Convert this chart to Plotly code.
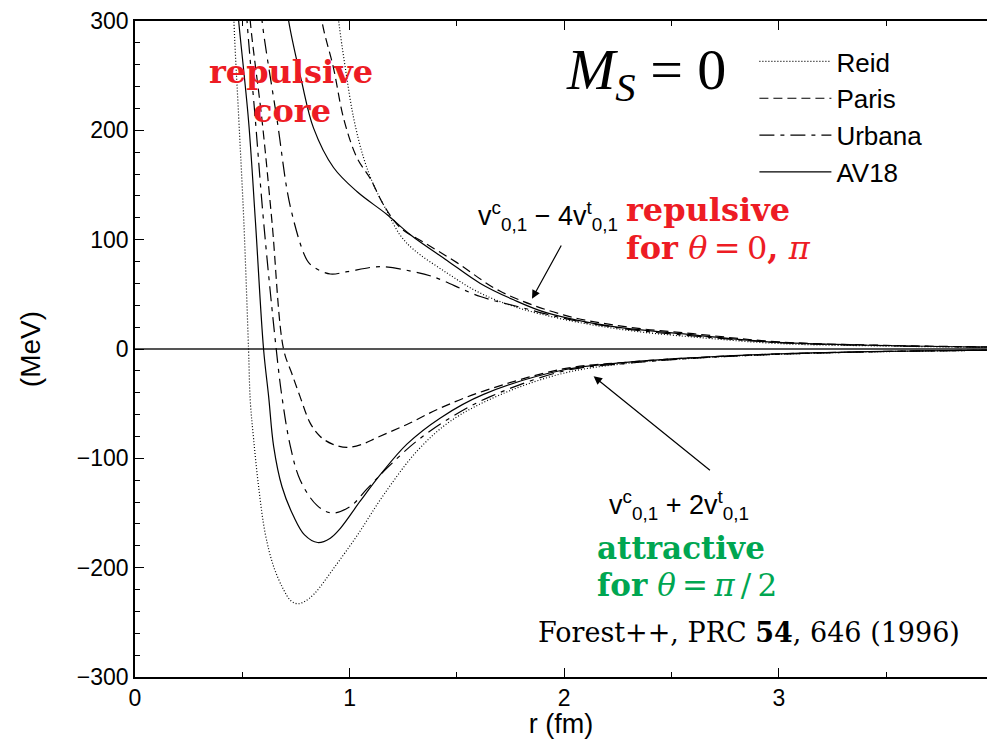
import plotly.graph_objects as go

# ---------------- data ----------------
# upper channel: v^c_{0,1} - 4 v^t_{0,1}
reid_up_r = [0.93, 0.949, 0.98, 1.019, 1.065, 1.112, 1.174, 1.236, 1.298, 1.45, 1.6, 1.764, 2.0, 2.3, 2.6, 3.0, 3.5, 3.97]
reid_up_v = [335, 300, 257, 211, 175, 150, 126, 104, 91, 70, 52, 39, 27, 17, 11, 5, 2.7, 1.5]

paris_up_r = [0.855, 0.871, 0.925, 0.972, 1.034, 1.096, 1.158, 1.236, 1.35, 1.5, 1.7, 2.0, 2.3, 2.6, 3.0, 3.5, 3.97]
paris_up_v = [335, 300, 257, 211, 175, 156, 132, 111, 97, 79, 53, 31, 20, 14, 6.5, 3.3, 1.9]

urbana_up_r = [0.575, 0.592, 0.662, 0.724, 0.801, 0.832, 0.91, 0.988, 1.143, 1.298, 1.391, 1.609, 1.8, 2.0, 2.3, 2.6, 3.0, 3.5, 3.97]
urbana_up_v = [340, 300, 209.5, 130, 81.4, 75, 68.6, 70.7, 75.3, 70.7, 66, 48, 38, 28, 18, 12, 5.8, 3, 1.7]

av18_up_r = [0.70, 0.716, 0.776, 0.832, 0.925, 1.034, 1.174, 1.283, 1.454, 1.609, 1.764, 1.92, 2.23, 2.541, 3.0, 3.5, 3.97]
av18_up_v = [325, 300, 245, 202, 166, 144, 123, 104.5, 81, 60, 45, 33, 20.4, 14, 6, 3.2, 1.8]

# lower channel: v^c_{0,1} + 2 v^t_{0,1}
reid_lo_r = [0.445, 0.461, 0.484, 0.507, 0.529, 0.537, 0.553, 0.576, 0.607, 0.646, 0.692, 0.725, 0.757, 0.79, 0.835, 0.928, 1.037, 1.16, 1.316, 1.47, 1.70, 2.0, 2.3, 2.6, 3.0, 3.5, 3.97]
reid_lo_v = [420, 300, 209, 117, 0, -47, -83, -126, -169, -199, -220, -230, -233, -231, -224, -200, -170, -133, -93, -66, -42, -22, -13, -8.5, -4.8, -2.4, -1.2]

paris_lo_r = [0.525, 0.537, 0.592, 0.638, 0.692, 0.73, 0.77, 0.817, 0.863, 0.92, 0.988, 1.06, 1.128, 1.267, 1.423, 1.624, 2.0, 2.3, 2.6, 3.0, 3.5, 3.97]
paris_lo_v = [340, 300, 209, 117, 0, -22, -44, -68, -80, -87, -90, -87, -81, -69, -54, -38.5, -18, -12, -8, -4.5, -2.2, -1.1]

urbana_lo_r = [0.51, 0.522, 0.561, 0.599, 0.658, 0.685, 0.724, 0.77, 0.848, 0.918, 1.003, 1.081, 1.174, 1.314, 1.469, 1.65, 2.0, 2.3, 2.6, 3.0, 3.5, 3.97]
urbana_lo_v = [340, 300, 209, 117, 0, -44, -89, -120, -143, -150, -144, -128, -109, -84, -63, -44, -20, -13, -8.5, -4.8, -2.3, -1.2]

av18_lo_r = [0.465, 0.483, 0.529, 0.561, 0.599, 0.623, 0.646, 0.685, 0.739, 0.79, 0.851, 0.91, 0.957, 1.05, 1.143, 1.267, 1.423, 1.624, 2.0, 2.3, 2.6, 3.0, 3.5, 3.97]
av18_lo_v = [340, 300, 209, 117, 0, -44, -89, -126, -153, -170, -177, -173, -164, -139, -115, -87, -63, -41.5, -19, -12, -8, -4.5, -2.2, -1.1]

model_names = ["Reid", "Paris", "Urbana", "AV18"]
x_ticks = [0, 1, 2, 3]
y_ticks = [-300, -200, -100, 0, 100, 200, 300]

# ---------------- styles ----------------
SANS = "Liberation Sans, Arial, sans-serif"
SERIF = "DejaVu Serif, serif"
RED = "#ED1C24"
GREEN = "#00A651"
dashes = {"Reid": "1px,2px", "Paris": "9px,5px", "Urbana": "15px,6px,4px,6px", "AV18": "solid"}

curves = {
    "Reid": ((reid_up_r, reid_up_v), (reid_lo_r, reid_lo_v)),
    "Paris": ((paris_up_r, paris_up_v), (paris_lo_r, paris_lo_v)),
    "Urbana": ((urbana_up_r, urbana_up_v), (urbana_lo_r, urbana_lo_v)),
    "AV18": ((av18_up_r, av18_up_v), (av18_lo_r, av18_lo_v)),
}

fig = go.Figure()
for name in model_names:
    (ur, uv), (lr, lv) = curves[name]
    ln = dict(color="black", width=1.2, dash=dashes[name], shape="spline", smoothing=1.0)
    fig.add_trace(go.Scatter(x=ur, y=uv, mode="lines", name=name, line=ln,
                             legendgroup=name, showlegend=True))
    fig.add_trace(go.Scatter(x=lr, y=lv, mode="lines", name=name, line=ln,
                             legendgroup=name, showlegend=False))

TS = "\u2009"  # thin space
annotations = [
    dict(x=0.729, y=253, text="<b>repulsive</b>", font=dict(family=SERIF, size=32, color=RED)),
    dict(x=0.733, y=218, text="<b>core</b>", font=dict(family=SERIF, size=32, color=RED)),
    dict(x=2.38, y=252, text="<i>M</i><sub><i>S</i></sub> = 0",
         font=dict(family="Liberation Serif, serif", size=58, color="black")),
    dict(x=1.59, y=122, xanchor="left",
         text="v<sup>c</sup><sub>0,1</sub> − 4v<sup>t</sup><sub>0,1</sub>",
         font=dict(family=SANS, size=27, color="black")),
    dict(x=2.28, y=127, xanchor="left", text="<b>repulsive</b>",
         font=dict(family=SERIF, size=32, color=RED)),
    dict(x=2.28, y=92, xanchor="left", text="<b>for</b> <i>θ</i>" + TS + "=" + TS + "0<b>,</b> <i>π</i>",
         font=dict(family=SERIF, size=32, color=RED)),
    dict(x=2.2, y=-143, xanchor="left",
         text="v<sup>c</sup><sub>0,1</sub> + 2v<sup>t</sup><sub>0,1</sub>",
         font=dict(family=SANS, size=27, color="black")),
    dict(x=2.143, y=-182, xanchor="left", text="<b>attractive</b>",
         font=dict(family=SERIF, size=31, color=GREEN)),
    dict(x=2.143, y=-216, xanchor="left", text="<b>for</b> <i>θ</i>" + TS + "=" + TS + "<i>π</i>" + TS + "/" + TS + "2",
         font=dict(family=SERIF, size=31, color=GREEN)),
    dict(x=1.87, y=-259, xanchor="left", text="Forest++, PRC <b>54</b>, 646 (1996)",
         font=dict(family=SERIF, size=27, color="black")),
]
for a in annotations:
    a.update(xref="x", yref="y", showarrow=False)

arrows = [
    dict(x=1.85, y=46, ax=1.99, ay=96),
    dict(x=2.137, y=-25, ax=2.686, ay=-112),
]
for a in arrows:
    a.update(xref="x", yref="y", axref="x", ayref="y", text="", showarrow=True,
             arrowhead=2, arrowsize=1.4, arrowwidth=1.2, arrowcolor="black", standoff=0)
    annotations.append(a)

fig.update_layout(
    width=987, height=739,
    margin=dict(l=135, r=0, t=21, b=62),
    paper_bgcolor="white", plot_bgcolor="white",
    font=dict(family=SANS, size=23, color="black"),
    annotations=annotations,
    legend=dict(x=0.727, y=0.974, xanchor="left", yanchor="top",
                font=dict(family=SANS, size=26, color="black"),
                bgcolor="rgba(0,0,0,0)", borderwidth=0, itemwidth=72,
                traceorder="normal"),
    xaxis=dict(range=[0, 3.97], tickvals=x_ticks, ticks="inside", ticklen=9, tickwidth=1,
               tickcolor="black", showline=True, linecolor="black", linewidth=1.5,
               mirror="ticks", showgrid=False, zeroline=False,
               minor=dict(dtick=0.5, ticks="inside", ticklen=5, tickcolor="black", showgrid=False),
               tickfont=dict(family=SANS, size=23),
               title=dict(text="r (fm)", font=dict(family=SANS, size=27), standoff=4)),
    yaxis=dict(range=[-300, 300], tickvals=y_ticks, ticks="inside", ticklen=9, tickwidth=1,
               tickcolor="black", showline=True, linecolor="black", linewidth=1.5,
               mirror=False, showgrid=False, zeroline=True, zerolinecolor="#555555",
               zerolinewidth=1.5,
               minor=dict(dtick=20, ticks="inside", ticklen=5, tickcolor="black", showgrid=False),
               tickfont=dict(family=SANS, size=23),
               title=dict(text="(MeV)", font=dict(family=SANS, size=28), standoff=28)),
)

fig.write_html("out.html")
